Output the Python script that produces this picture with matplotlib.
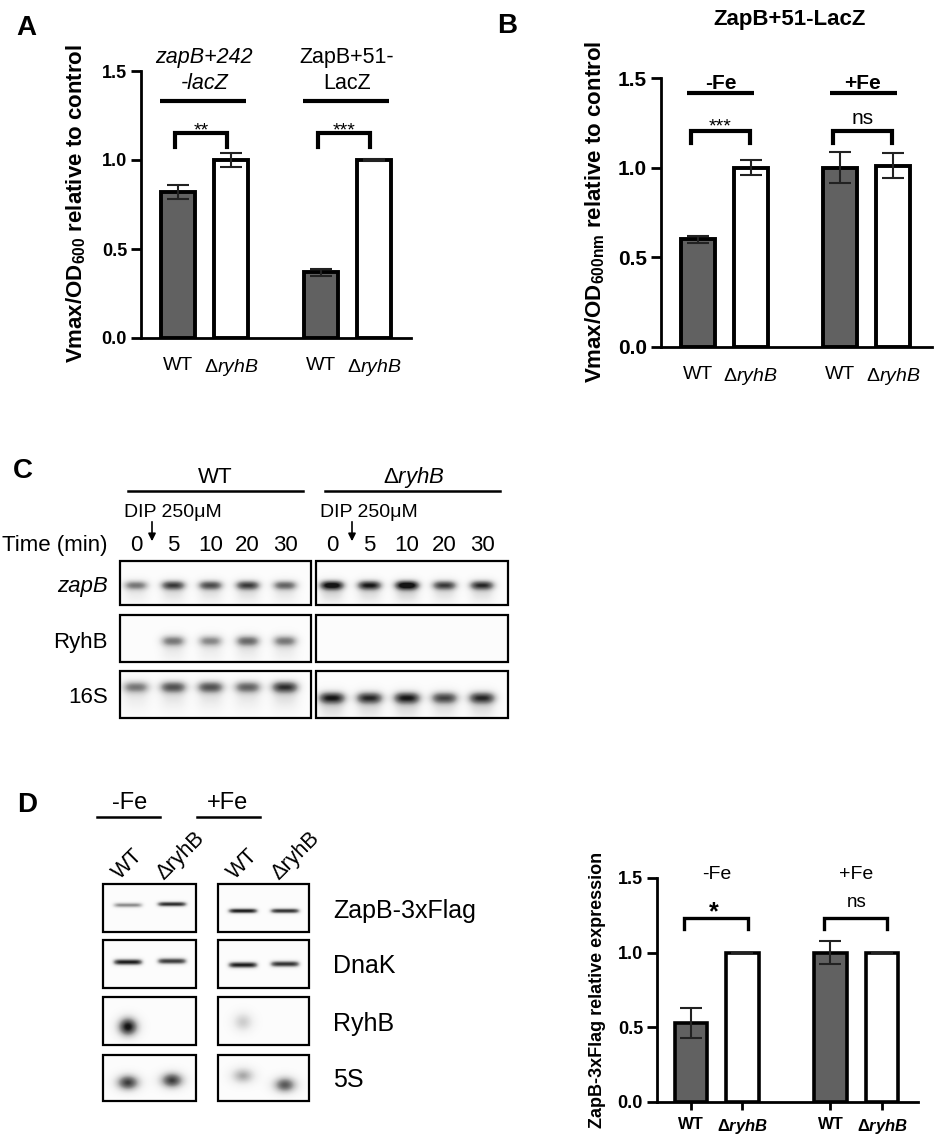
import numpy as np
import matplotlib
matplotlib.use("Agg")
import matplotlib.pyplot as plt
from matplotlib.patches import Rectangle
from matplotlib.ticker import FormatStrFormatter

plt.rcParams["font.family"] = ["Liberation Sans", "DejaVu Sans"]
plt.rcParams["mathtext.fontset"] = "custom"
plt.rcParams["mathtext.rm"] = "Liberation Sans"
plt.rcParams["mathtext.it"] = "Liberation Sans:italic"
plt.rcParams["mathtext.bf"] = "Liberation Sans:bold"
plt.rcParams["mathtext.bfit"] = "Liberation Sans:italic:bold"

# ---- data ----
# A: beta-gal activity, two fusions
a_titles = [("zapB+242", "-lacZ"), ("ZapB+51-", "LacZ")]
a_wt = [0.82, 0.37]
a_wt_err = [0.04, 0.02]
a_dr = [1.00, 1.00]
a_dr_err = [0.04, 0.005]
a_sig = ["**", "***"]

# B: ZapB+51-LacZ, iron conditions
b_groups = ["-Fe", "+Fe"]
b_wt = [0.60, 1.00]
b_wt_err = [0.02, 0.085]
b_dr = [1.00, 1.01]
b_dr_err = [0.04, 0.07]
b_sig = ["***", "ns"]

# C: northern blot band intensities (0 = none, 1 = black)
c_times = ["0", "5", "10", "20", "30"]
c_zapb_wt = [0.55, 0.75, 0.70, 0.75, 0.62]
c_zapb_dr = [0.95, 0.85, 1.00, 0.75, 0.80]
c_ryhb_wt = [0.0, 0.55, 0.50, 0.60, 0.55]
c_ryhb_dr = [0.0, 0.0, 0.0, 0.0, 0.0]
c_16s_wt = [0.55, 0.68, 0.68, 0.62, 0.78]
c_16s_dr = [0.85, 0.80, 0.85, 0.72, 0.80]

# D: western / northern bands, lanes = WT, dryhB for -Fe then +Fe
d_zapflag = [[0.55, 0.90], [0.95, 0.88]]
d_dnak = [[0.95, 0.85], [0.95, 0.88]]
d_ryhb = [[1.00, 0.0], [0.30, 0.0]]
d_5s = [[0.85, 0.85], [0.45, 0.75]]

# D: ZapB-3xFlag quantification
d_wt = [0.53, 1.00]
d_wt_err = [0.10, 0.075]
d_dr = [1.00, 1.00]
d_dr_err = [0.0, 0.0]
d_sig = ["*", "ns"]

W, H = 935, 1138
GRAY = "#616161"
GROUP_X = np.array([0.0, 2.7])

fig = plt.figure(figsize=(W / 100, H / 100), dpi=100)
ov = fig.add_axes([0, 0, 1, 1], zorder=0)
ov.axis("off")


def px_axes(l, t, r, b):
    return fig.add_axes([l / W, 1 - b / H, (r - l) / W, (b - t) / H], zorder=2)


def bar_panel(ax, wt, wt_err, dr, dr_err, xlim, width, lw_bar, tick_fs, spine_w=2.0):
    ax.bar(GROUP_X, wt, width, color=GRAY, edgecolor="k", linewidth=lw_bar, zorder=2)
    ax.bar(GROUP_X + 1, dr, width, color="white", edgecolor="k", linewidth=lw_bar, zorder=2)
    pos = np.concatenate([GROUP_X, GROUP_X + 1])
    ax.errorbar(pos, wt + dr, yerr=wt_err + dr_err, fmt="none", ecolor="#222222",
                elinewidth=1.5, capsize=8, capthick=1.5, zorder=3)
    ax.set_xlim(*xlim)
    ax.set_ylim(0, 1.5)
    ax.set_yticks([0, 0.5, 1.0, 1.5])
    ax.yaxis.set_major_formatter(FormatStrFormatter("%.1f"))
    for s in ["top", "right"]:
        ax.spines[s].set_visible(False)
    for s in ["left", "bottom"]:
        ax.spines[s].set_linewidth(spine_w)
    ax.tick_params(axis="y", length=7, width=spine_w, labelsize=tick_fs, pad=3)
    for t in ax.get_yticklabels():
        t.set_fontweight("bold")
    ax.patch.set_alpha(0)


def bracket(ax, xa, xb, top, leg, lw):
    ax.plot([xa, xa, xb, xb], [leg, top, top, leg], color="k", lw=lw,
            solid_joinstyle="miter", clip_on=False, zorder=4)


# ---------------- Panel A ----------------
axA = px_axes(141, 71, 411, 338)
bar_panel(axA, a_wt, a_wt_err, a_dr, a_dr_err, (-0.70, 4.40), 0.64, 2.8, 13)
axA.set_xticks(np.concatenate([GROUP_X, GROUP_X + 1]))
axA.set_xticklabels(["WT", "WT", r"$\Delta\mathit{ryhB}$", r"$\Delta\mathit{ryhB}$"], fontsize=14)
axA.tick_params(axis="x", length=0, pad=14)
for i, gx in enumerate(GROUP_X):
    sty = "italic" if i == 0 else "normal"
    axA.text(gx + 0.48, 1.545, a_titles[i][0], ha="center", va="baseline", fontsize=15.5, style=sty)
    axA.text(gx + 0.50, 1.40, a_titles[i][1], ha="center", va="baseline", fontsize=15.5, style=sty)
    axA.plot([gx - 0.34, gx + 1.28], [1.33, 1.33], color="k", lw=3.0, clip_on=False, solid_capstyle="butt")
    bracket(axA, gx - 0.06, gx + 0.93, 1.15, 1.075, 3.0)
    axA.text(gx + 0.43, 1.14, a_sig[i], ha="center", va="baseline", fontsize=14)
ov.text(76, 204, r"Vmax/OD$_\mathbf{600}$ relative to control", rotation=90, ha="center",
        va="center", fontsize=16, fontweight="bold")

# ---------------- Panel B ----------------
axB = px_axes(661, 78, 932, 347)
bar_panel(axB, b_wt, b_wt_err, b_dr, b_dr_err, (-0.70, 4.44), 0.64, 2.8, 15)
axB.set_xticks(np.concatenate([GROUP_X, GROUP_X + 1]))
axB.set_xticklabels(["WT", "WT", r"$\Delta\mathit{ryhB}$", r"$\Delta\mathit{ryhB}$"], fontsize=14)
axB.tick_params(axis="x", length=0, pad=14)
for i, gx in enumerate(GROUP_X):
    axB.plot([gx - 0.2, gx + 1.07], [1.417, 1.417], color="k", lw=3.0, clip_on=False, solid_capstyle="butt")
    axB.text(gx + 0.43, 1.44, b_groups[i], ha="center", va="baseline", fontsize=15, fontweight="bold")
    bracket(axB, gx - 0.13, gx + 0.98, 1.205, 1.14, 3.0)
    fs = 15 if b_sig[i] == "ns" else 14
    axB.text(gx + 0.43, 1.245 if b_sig[i] == "ns" else 1.20, b_sig[i], ha="center", va="baseline", fontsize=fs)
ov.text(595, 212, r"Vmax/OD$_\mathbf{600nm}$ relative to control", rotation=90, ha="center",
        va="center", fontsize=16, fontweight="bold")
ov.text(790, 25, "ZapB+51-LacZ", ha="center", va="baseline", fontsize=16, fontweight="bold")


# ---------------- blots ----------------
def blot(box, lanes, band_y, vals, sx, sy, p=4, tail=0.0):
    x0, y0, x1, y1 = box
    xx, yy = np.meshgrid(np.arange(x0, x1) + 0.5, np.arange(y0, y1) + 0.5)
    img = np.full(xx.shape, 0.025)
    for lx, ly, v in zip(lanes, band_y, vals):
        across = np.abs((xx - lx) / sx) ** p
        img += v * np.exp(-0.5 * across - 0.5 * ((yy - ly) / sy) ** 2)
        if tail:
            img += tail * v * np.exp(-0.5 * across - 0.5 * ((yy - ly - 2.2 * sy) / (2.2 * sy)) ** 2)
    ov.imshow(np.clip(img, 0, 1), cmap="Greys", vmin=0, vmax=1.08, extent=(x0, x1, y1, y0),
              aspect="auto", interpolation="bilinear", zorder=1)
    ov.add_patch(Rectangle((x0, y0), x1 - x0, y1 - y0, fill=False, ec="k", lw=1.6, zorder=2))


# Panel C
c_boxes_x = [(120, 311), (316, 508)]
c_rows = [("zapB", (561, 605), [0.55, 0.55], [c_zapb_wt, c_zapb_dr], 10, 3.4, "italic"),
          ("RyhB", (615, 662), [0.55, 0.55], [c_ryhb_wt, c_ryhb_dr], 10, 4.0, "normal"),
          ("16S", (671, 718), [0.34, 0.57], [c_16s_wt, c_16s_dr], 11, 4.3, "normal")]
c_base = [592, 648, 703]
for r, (name, (y0, y1), fr, vals, sx, sy, sty) in enumerate(c_rows):
    for k, (x0, x1) in enumerate(c_boxes_x):
        lanes = np.linspace(x0 + 16, x1 - 26, 5)
        by = [y0 + fr[k] * (y1 - y0)] * 5
        blot((x0, y0, x1, y1), lanes, by, vals[k], sx, sy, p=3, tail=0.25)
    ov.text(108, c_base[r], name, ha="right", va="baseline", fontsize=16, style=sty)

c_heads = ["WT", r"$\Delta\mathit{ryhB}$"]
c_head_x = [215, 414]
c_line_x = [(128, 303), (325, 500)]
for k, (x0, x1) in enumerate(c_boxes_x):
    ov.text(c_head_x[k], 483, c_heads[k], ha="center", va="baseline", fontsize=16)
    ov.plot(c_line_x[k], [491, 491], color="k", lw=1.8)
    ov.text(x0 + 4, 517, "DIP 250μM", ha="left", va="baseline", fontsize=14)
    ax_arrow = x0 + 32 if k == 0 else x0 + 36
    ov.annotate("", xy=(ax_arrow, 544), xytext=(ax_arrow, 519),
                arrowprops=dict(arrowstyle="-|>", color="k", lw=1.2, mutation_scale=11))
    for t, lx in zip(c_times, np.linspace(x0 + 16, x1 - 26, 5)):
        ov.text(lx, 551, t, ha="center", va="baseline", fontsize=16)
ov.text(108, 551, "Time (min)", ha="right", va="baseline", fontsize=16)

# Panel D blots
d_boxes_x = [(103, 196), (218, 309)]
d_rows = [("ZapB-3xFlag", (884, 932), [[0.44, 0.42], [0.56, 0.56]], d_zapflag, 13, 1.8, 6, 918),
          ("DnaK", (940, 988), [[0.46, 0.44], [0.52, 0.50]], d_dnak, 13, 2.2, 6, 973),
          ("RyhB", (997, 1045), [[0.62, 0.6], [0.52, 0.5]], d_ryhb, 7, 6.5, 2, 1031),
          ("5S", (1055, 1101), [[0.60, 0.55], [0.45, 0.65]], d_5s, 8, 5.5, 2, 1087)]
for name, (y0, y1), fr, vals, sx, sy, p, base in d_rows:
    for k, (x0, x1) in enumerate(d_boxes_x):
        lanes = [x0 + 25, x1 - 24]
        by = [y0 + f * (y1 - y0) for f in fr[k]]
        blot((x0, y0, x1, y1), lanes, by, vals[k], sx, sy, p=p)
    ov.text(333, base, name, ha="left", va="baseline", fontsize=18)

d_heads = ["-Fe", "+Fe"]
d_head_x = [130, 228]
d_line_x = [(97, 160), (197, 260)]
for k, (x0, x1) in enumerate(d_boxes_x):
    ov.text(d_head_x[k], 809, d_heads[k], ha="center", va="baseline", fontsize=17)
    ov.plot(d_line_x[k], [817, 817], color="k", lw=1.8)
    ov.text(x0 + 20, 884, "WT", rotation=45, rotation_mode="anchor", ha="left", va="bottom", fontsize=15.5)
    ov.text(x0 + 64, 884, "ΔryhB", rotation=45, rotation_mode="anchor", ha="left", va="bottom", fontsize=15.5)

# Panel D quantification
axD = px_axes(657, 878, 918, 1102)
bar_panel(axD, d_wt, d_wt_err, d_dr, d_dr_err, (-0.65, 4.39), 0.62, 2.6, 13)
axD.set_xticks(np.concatenate([GROUP_X, GROUP_X + 1]))
axD.set_xticklabels(["WT", "WT", r"$\mathbf{\Delta}\mathbfit{ryhB}$", r"$\mathbf{\Delta}\mathbfit{ryhB}$"],
                    fontsize=12, fontweight="bold")
axD.tick_params(axis="x", length=6, width=2.0, pad=5)
for i, gx in enumerate(GROUP_X):
    axD.text(gx + 0.5, 1.494, d_heads[i], ha="center", va="baseline", fontsize=14)
    bracket(axD, gx - 0.13, gx + 1.1, 1.232, 1.16, 2.4)
    if d_sig[i] == "*":
        axD.text(gx + 0.45, 1.226, "*", ha="center", va="baseline", fontsize=18, fontweight="bold")
    else:
        axD.text(gx + 0.5, 1.306, "ns", ha="center", va="baseline", fontsize=13.5)
ov.text(598, 990, "ZapB-3xFlag relative expression", rotation=90, ha="center", va="center",
        fontsize=13, fontweight="bold")

# panel letters
for letter, x, y in [("A", 16, 35), ("B", 497, 33), ("C", 13, 478), ("D", 17, 812)]:
    ov.text(x, y, letter, ha="left", va="baseline", fontsize=20, fontweight="bold")

ov.set_xlim(0, W)
ov.set_ylim(H, 0)
fig.savefig("out.png", dpi=100)
